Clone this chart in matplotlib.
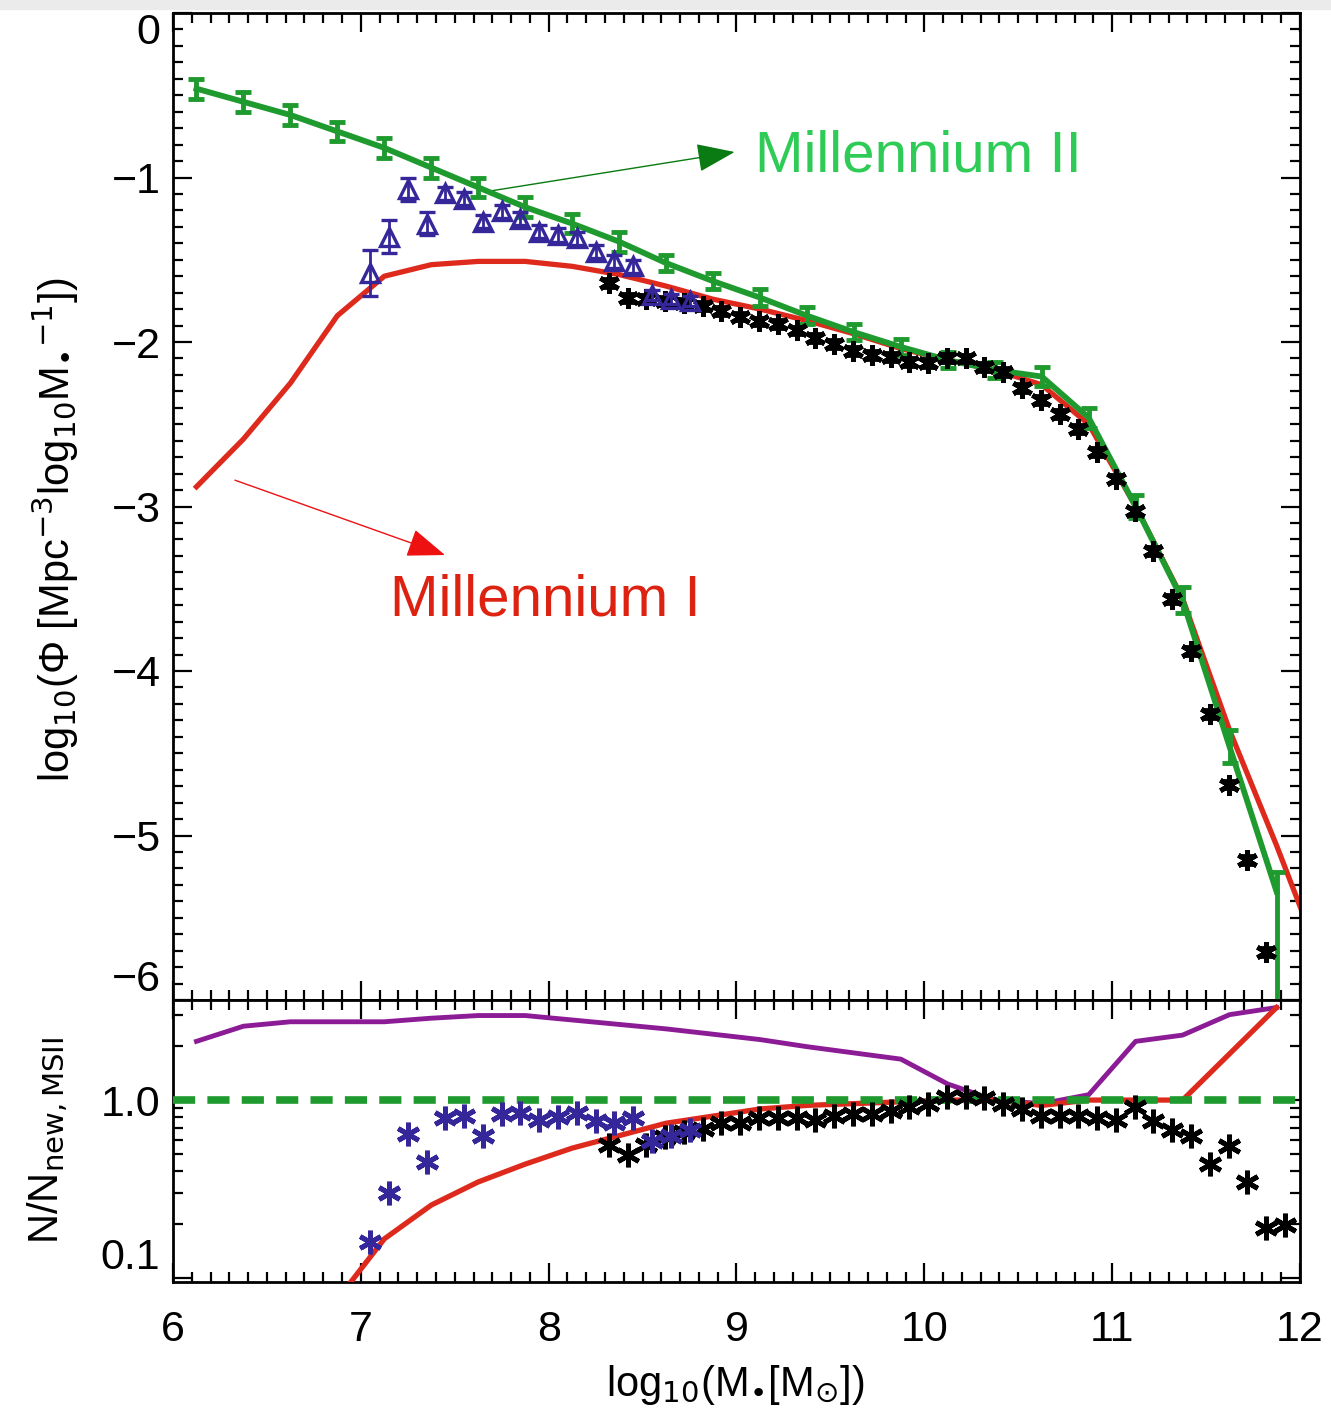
import numpy as np
import matplotlib.pyplot as plt
from matplotlib.ticker import MultipleLocator, FixedLocator, FixedFormatter, NullFormatter, LogLocator
from matplotlib.patches import Rectangle

plt.rcParams['font.family'] = ['Liberation Sans Narrow', 'Liberation Sans', 'DejaVu Sans']
plt.rcParams['mathtext.fontset'] = 'custom'
plt.rcParams['mathtext.rm'] = 'Liberation Sans Narrow'
plt.rcParams['mathtext.it'] = 'Liberation Sans Narrow'
plt.rcParams['mathtext.bf'] = 'Liberation Sans Narrow'

# model grid (Millennium I / II), log10 M*
x_model = [6.125, 6.375, 6.625, 6.875, 7.125, 7.375, 7.625, 7.875, 8.125, 8.375,
           8.625, 8.875, 9.125, 9.375, 9.625, 9.875, 10.125, 10.375, 10.625, 10.875,
           11.125, 11.375, 11.625, 11.875]
msII = [-0.46, -0.54, -0.62, -0.72, -0.82, -0.94, -1.06, -1.18, -1.28, -1.39,
        -1.52, -1.63, -1.73, -1.84, -1.94, -2.03, -2.11, -2.17, -2.21, -2.46,
        -3.00, -3.57, -4.46, -5.34]
msII_err_lo = [0.06, 0.06, 0.06, 0.06, 0.06, 0.06, 0.06, 0.06, 0.06, 0.06,
               0.05, 0.05, 0.05, 0.05, 0.05, 0.05, 0.05, 0.05, 0.06, 0.06,
               0.07, 0.08, 0.10, 1.00]
msII_err_hi = [0.06, 0.06, 0.06, 0.06, 0.06, 0.06, 0.06, 0.06, 0.06, 0.06,
               0.05, 0.05, 0.05, 0.05, 0.05, 0.05, 0.05, 0.05, 0.06, 0.06,
               0.07, 0.08, 0.10, 0.12]

x_msI = x_model + [12.125]
msI = [-2.88, -2.59, -2.25, -1.84, -1.60, -1.53, -1.51, -1.51, -1.54, -1.59,
       -1.66, -1.74, -1.80, -1.87, -1.95, -2.04, -2.11, -2.17, -2.26, -2.50,
       -3.00, -3.56, -4.36, -5.06, -5.80]

# low-mass observations (triangles)
x_low = [7.05, 7.15, 7.25, 7.35, 7.45, 7.55, 7.65, 7.75, 7.85, 7.95,
         8.05, 8.15, 8.25, 8.35, 8.45, 8.55, 8.65, 8.75]
phi_low = [-1.58, -1.36, -1.07, -1.28, -1.095, -1.13, -1.27, -1.205, -1.25, -1.33,
           -1.35, -1.37, -1.45, -1.51, -1.54, -1.715, -1.74, -1.75]
err_low = [0.14, 0.10, 0.07, 0.07, 0.04, 0.04, 0.04, 0.04, 0.04, 0.04,
           0.04, 0.04, 0.04, 0.04, 0.04, 0.03, 0.03, 0.03]
ratio_low = [-0.80, -0.52, -0.19, -0.35, -0.10, -0.09, -0.20, -0.08, -0.075, -0.11,
             -0.095, -0.075, -0.12, -0.13, -0.10, -0.23, -0.20, -0.17]

# high-mass observations (asterisks)
x_high = [8.32, 8.42, 8.52, 8.62, 8.72, 8.82, 8.92, 9.02, 9.12, 9.22,
          9.32, 9.42, 9.52, 9.62, 9.72, 9.82, 9.92, 10.02, 10.12, 10.22,
          10.32, 10.42, 10.52, 10.62, 10.72, 10.82, 10.92, 11.02, 11.12, 11.22,
          11.32, 11.42, 11.52, 11.62, 11.72, 11.82, 11.92]
phi_high = [-1.64, -1.73, -1.74, -1.75, -1.76, -1.78, -1.81, -1.845, -1.875, -1.89,
            -1.93, -1.975, -2.01, -2.055, -2.08, -2.09, -2.12, -2.13, -2.095, -2.10,
            -2.15, -2.18, -2.28, -2.35, -2.44, -2.53, -2.67, -2.83, -3.03, -3.27,
            -3.56, -3.88, -4.26, -4.69, -5.15, -5.71, -6.10]
ratio_high = [-0.25, -0.31, -0.25, -0.21, -0.18, -0.16, -0.13, -0.13, -0.10, -0.10,
              -0.10, -0.11, -0.09, -0.08, -0.08, -0.06, -0.04, -0.02, 0.02, 0.02,
              0.01, -0.02, -0.05, -0.09, -0.09, -0.09, -0.10, -0.11, -0.04, -0.12,
              -0.17, -0.20, -0.36, -0.26, -0.46, -0.72, -0.70]

# ratio panel curves (log10 N/N_new,MSII)
x_ratio_msI = [6.875, 7.125, 7.375, 7.625, 7.875, 8.125, 8.375, 8.625, 8.875, 9.125,
               9.375, 9.625, 9.875, 10.125, 10.375, 10.625, 10.875, 11.125, 11.375,
               11.625, 11.875]
ratio_msI = [-1.12, -0.78, -0.59, -0.46, -0.36, -0.27, -0.20, -0.13, -0.09, -0.05,
             -0.03, -0.02, -0.01, 0.0, 0.0, -0.03, 0.0, 0.0, 0.0, 0.26, 0.52]
ratio_old = [0.33, 0.415, 0.44, 0.44, 0.44, 0.46, 0.475, 0.475, 0.45, 0.425,
             0.40, 0.37, 0.34, 0.30, 0.265, 0.23, 0.09, 0.0, -0.02, 0.03,
             0.33, 0.365, 0.48, 0.52]

green = '#1f9a2e'
red = '#dd2a1c'
blue = '#35279a'
purple = '#8c1c96'

fig = plt.figure(figsize=(13.31, 14.15), dpi=100)
fig.add_artist(Rectangle((0, 1 - 9 / 1415), 1, 9 / 1415, transform=fig.transFigure,
                         color='#ebebeb', zorder=0))
ax1 = fig.add_axes([173 / 1331, 415 / 1415, 1127 / 1331, 987 / 1415])
ax2 = fig.add_axes([173 / 1331, 133 / 1415, 1127 / 1331, 282 / 1415])

# --- mass function panel ---
ax1.plot(x_msI, msI, color=red, lw=3.8, zorder=2)
ax1.errorbar(x_model, msII, yerr=[msII_err_lo, msII_err_hi], color=green, lw=4.2,
             elinewidth=3.5, capsize=6, capthick=3.5, zorder=3)
ax1.errorbar(x_high, phi_high, yerr=0.03, fmt='none', ecolor='black', elinewidth=2,
             capsize=4, capthick=2, zorder=4)
ax1.plot(x_high, phi_high, ls='none', marker=(6, 2, 0), ms=15, mew=3.5,
         color='black', zorder=4)
ax1.errorbar(x_low, phi_low, yerr=err_low, fmt='^', ms=13, mfc='none', mec=blue,
             mew=2.4, ecolor=blue, elinewidth=2, capsize=6, capthick=2, zorder=5)

ax1.annotate('', xy=(8.99, -0.845), xytext=(7.7, -1.08),
             arrowprops=dict(arrowstyle='-|>,head_length=0.8,head_width=0.3',
                             color='#0a7a12', lw=1, mutation_scale=30, shrinkA=0, shrinkB=0))
ax1.text(9.10, -0.875, 'Millennium II', color='#2fcb57', fontsize=42,
         family=['Liberation Sans', 'DejaVu Sans'], va='center', ha='left')
ax1.annotate('', xy=(7.448, -3.295), xytext=(6.33, -2.84),
             arrowprops=dict(arrowstyle='-|>,head_length=0.8,head_width=0.3',
                             color='#ee1111', lw=1, mutation_scale=30, shrinkA=0, shrinkB=0))
ax1.text(7.155, -3.57, 'Millennium I', color='#dd2211', fontsize=42,
         family=['Liberation Sans', 'DejaVu Sans'], va='center', ha='left')

ax1.set_xlim(6, 12)
ax1.set_ylim(-6, 0)
ax1.xaxis.set_major_locator(MultipleLocator(1))
ax1.xaxis.set_minor_locator(MultipleLocator(0.1))
ax1.xaxis.set_major_formatter(NullFormatter())
ax1.set_yticks(range(-6, 1))
ax1.set_yticklabels(['\u22126', '\u22125', '\u22124', '\u22123', '\u22122', '\u22121', '0'])
ax1.yaxis.set_minor_locator(MultipleLocator(0.1))
ylabels = ax1.get_yticklabels()
ylabels[0].set_va('bottom')
ylabels[-1].set_va('top')

# --- ratio panel ---
ax2.plot(x_model, 10 ** np.array(ratio_old), color=purple, lw=3.5, zorder=2)
ax2.plot(x_ratio_msI, 10 ** np.array(ratio_msI), color=red, lw=3.8, zorder=3)
ax2.axhline(1.0, color=green, lw=5.5, dashes=(2.9, 1.6), zorder=4)
ax2.plot(x_high, 10 ** np.array(ratio_high), ls='none', marker=(6, 2, 0), ms=17,
         mew=3.5, color='black', zorder=5)
ax2.plot(x_low, 10 ** np.array(ratio_low), ls='none', marker=(6, 2, 0), ms=17,
         mew=3.5, color=blue, zorder=6)

ax2.set_xlim(6, 12)
ax2.set_yscale('log')
ax2.set_ylim(0.095, 3.65)
ax2.xaxis.set_major_locator(MultipleLocator(1))
ax2.xaxis.set_minor_locator(MultipleLocator(0.1))
ax2.yaxis.set_major_locator(FixedLocator([0.1, 1.0]))
ax2.yaxis.set_major_formatter(FixedFormatter(['0.1', '1.0']))
ax2.yaxis.set_minor_locator(LogLocator(base=10, subs=np.arange(2, 10)))
ax2.yaxis.set_minor_formatter(NullFormatter())
rlabels = ax2.get_yticklabels()
rlabels[0].set_va('bottom')

for ax in (ax1, ax2):
    ax.tick_params(which='both', direction='in', top=True, right=True, width=1.6,
                   labelsize=31)
    ax.tick_params(which='major', length=14)
    ax.tick_params(which='minor', length=7)
    ax.tick_params(axis='y', pad=9)
    ax.tick_params(axis='x', pad=20)
    for s in ax.spines.values():
        s.set_linewidth(2)

fig.text(55 / 1331, 1 - 530 / 1415,
         'log$_{10}$(\u03a6 [Mpc$^{-3}$log$_{10}$M$_{\u2022}$$^{-1}$])',
         rotation=90, ha='center', va='center', fontsize=30)
fig.text(48 / 1331, 1 - 1140 / 1415, 'N/N$_{\\rm new,MSII}$',
         rotation=90, ha='center', va='center', fontsize=30)
fig.text(735 / 1331, 1 - 1385 / 1415, 'log$_{10}$(M$_{\u2022}$[M$_{\\odot}$])',
         ha='center', va='center', fontsize=30)

fig.savefig('out.png', dpi=100)
